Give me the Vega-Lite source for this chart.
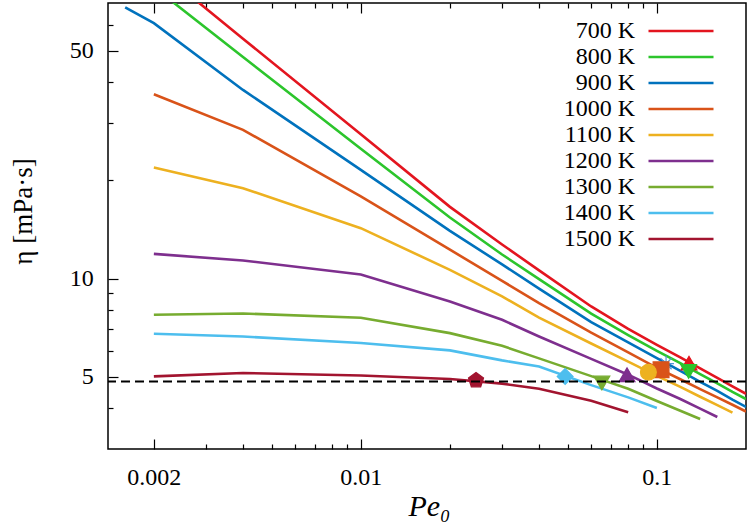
{
  "$schema": "https://vega.github.io/schema/vega-lite/v6.json",
  "width": 638,
  "height": 446,
  "autosize": {"type": "none"},
  "padding": {"left": 108, "top": 3, "right": 2, "bottom": 76},
  "background": "white",
  "config": {
    "view": {"stroke": "black", "strokeWidth": 1.5},
    "axis": {
      "grid": false,
      "domain": false,
      "tickColor": "black",
      "tickWidth": 1.2,
      "labelFont": "Liberation Serif",
      "labelFontSize": 24,
      "labelColor": "black",
      "titleFont": "Liberation Serif",
      "titleColor": "black",
      "titleFontWeight": "normal"
    }
  },
  "datasets": {
    "curves": [
      {"T": "700 K", "Pe": 0.002, "eta": 90.9},
      {"T": "700 K", "Pe": 0.004, "eta": 54.4},
      {"T": "700 K", "Pe": 0.01, "eta": 27.7},
      {"T": "700 K", "Pe": 0.02, "eta": 16.59},
      {"T": "700 K", "Pe": 0.03, "eta": 12.72},
      {"T": "700 K", "Pe": 0.04, "eta": 10.59},
      {"T": "700 K", "Pe": 0.06, "eta": 8.21},
      {"T": "700 K", "Pe": 0.08, "eta": 7.01},
      {"T": "700 K", "Pe": 0.1, "eta": 6.26},
      {"T": "700 K", "Pe": 0.12, "eta": 5.73},
      {"T": "700 K", "Pe": 0.14, "eta": 5.30},
      {"T": "700 K", "Pe": 0.16, "eta": 4.96},
      {"T": "700 K", "Pe": 0.18, "eta": 4.67},
      {"T": "700 K", "Pe": 0.2, "eta": 4.43},
      {"T": "800 K", "Pe": 0.002, "eta": 78.3},
      {"T": "800 K", "Pe": 0.004, "eta": 47.8},
      {"T": "800 K", "Pe": 0.01, "eta": 25.0},
      {"T": "800 K", "Pe": 0.02, "eta": 15.39},
      {"T": "800 K", "Pe": 0.03, "eta": 11.85},
      {"T": "800 K", "Pe": 0.04, "eta": 9.96},
      {"T": "800 K", "Pe": 0.06, "eta": 7.80},
      {"T": "800 K", "Pe": 0.08, "eta": 6.71},
      {"T": "800 K", "Pe": 0.1, "eta": 6.00},
      {"T": "800 K", "Pe": 0.12, "eta": 5.50},
      {"T": "800 K", "Pe": 0.14, "eta": 5.09},
      {"T": "800 K", "Pe": 0.16, "eta": 4.77},
      {"T": "800 K", "Pe": 0.18, "eta": 4.49},
      {"T": "800 K", "Pe": 0.2, "eta": 4.27},
      {"T": "900 K", "Pe": 0.0016, "eta": 67.9},
      {"T": "900 K", "Pe": 0.002, "eta": 60.7},
      {"T": "900 K", "Pe": 0.004, "eta": 37.88},
      {"T": "900 K", "Pe": 0.01, "eta": 21.55},
      {"T": "900 K", "Pe": 0.02, "eta": 14.0},
      {"T": "900 K", "Pe": 0.03, "eta": 11.05},
      {"T": "900 K", "Pe": 0.04, "eta": 9.31},
      {"T": "900 K", "Pe": 0.06, "eta": 7.35},
      {"T": "900 K", "Pe": 0.08, "eta": 6.37},
      {"T": "900 K", "Pe": 0.1, "eta": 5.70},
      {"T": "900 K", "Pe": 0.12, "eta": 5.21},
      {"T": "900 K", "Pe": 0.14, "eta": 4.82},
      {"T": "900 K", "Pe": 0.16, "eta": 4.52},
      {"T": "900 K", "Pe": 0.18, "eta": 4.25},
      {"T": "900 K", "Pe": 0.2, "eta": 4.04},
      {"T": "1000 K", "Pe": 0.002, "eta": 36.75},
      {"T": "1000 K", "Pe": 0.004, "eta": 28.57},
      {"T": "1000 K", "Pe": 0.01, "eta": 17.86},
      {"T": "1000 K", "Pe": 0.02, "eta": 12.26},
      {"T": "1000 K", "Pe": 0.03, "eta": 9.84},
      {"T": "1000 K", "Pe": 0.04, "eta": 8.40},
      {"T": "1000 K", "Pe": 0.06, "eta": 6.82},
      {"T": "1000 K", "Pe": 0.08, "eta": 5.94},
      {"T": "1000 K", "Pe": 0.1, "eta": 5.32},
      {"T": "1000 K", "Pe": 0.12, "eta": 4.91},
      {"T": "1000 K", "Pe": 0.14, "eta": 4.58},
      {"T": "1000 K", "Pe": 0.16, "eta": 4.32},
      {"T": "1000 K", "Pe": 0.18, "eta": 4.10},
      {"T": "1000 K", "Pe": 0.2, "eta": 3.91},
      {"T": "1100 K", "Pe": 0.002, "eta": 21.9},
      {"T": "1100 K", "Pe": 0.004, "eta": 18.93},
      {"T": "1100 K", "Pe": 0.01, "eta": 14.27},
      {"T": "1100 K", "Pe": 0.02, "eta": 10.63},
      {"T": "1100 K", "Pe": 0.03, "eta": 8.81},
      {"T": "1100 K", "Pe": 0.04, "eta": 7.59},
      {"T": "1100 K", "Pe": 0.06, "eta": 6.32},
      {"T": "1100 K", "Pe": 0.08, "eta": 5.56},
      {"T": "1100 K", "Pe": 0.1, "eta": 5.03},
      {"T": "1100 K", "Pe": 0.12, "eta": 4.65},
      {"T": "1100 K", "Pe": 0.14, "eta": 4.34},
      {"T": "1100 K", "Pe": 0.16, "eta": 4.09},
      {"T": "1100 K", "Pe": 0.18, "eta": 3.88},
      {"T": "1200 K", "Pe": 0.002, "eta": 11.9},
      {"T": "1200 K", "Pe": 0.004, "eta": 11.36},
      {"T": "1200 K", "Pe": 0.01, "eta": 10.29},
      {"T": "1200 K", "Pe": 0.02, "eta": 8.50},
      {"T": "1200 K", "Pe": 0.03, "eta": 7.47},
      {"T": "1200 K", "Pe": 0.04, "eta": 6.64},
      {"T": "1200 K", "Pe": 0.06, "eta": 5.67},
      {"T": "1200 K", "Pe": 0.08, "eta": 5.07},
      {"T": "1200 K", "Pe": 0.1, "eta": 4.60},
      {"T": "1200 K", "Pe": 0.12, "eta": 4.27},
      {"T": "1200 K", "Pe": 0.14, "eta": 3.99},
      {"T": "1200 K", "Pe": 0.16, "eta": 3.76},
      {"T": "1300 K", "Pe": 0.002, "eta": 7.74},
      {"T": "1300 K", "Pe": 0.004, "eta": 7.81},
      {"T": "1300 K", "Pe": 0.01, "eta": 7.58},
      {"T": "1300 K", "Pe": 0.02, "eta": 6.80},
      {"T": "1300 K", "Pe": 0.03, "eta": 6.22},
      {"T": "1300 K", "Pe": 0.04, "eta": 5.69},
      {"T": "1300 K", "Pe": 0.06, "eta": 5.02},
      {"T": "1300 K", "Pe": 0.08, "eta": 4.59},
      {"T": "1300 K", "Pe": 0.1, "eta": 4.21},
      {"T": "1300 K", "Pe": 0.12, "eta": 3.93},
      {"T": "1300 K", "Pe": 0.14, "eta": 3.71},
      {"T": "1400 K", "Pe": 0.002, "eta": 6.77},
      {"T": "1400 K", "Pe": 0.004, "eta": 6.64},
      {"T": "1400 K", "Pe": 0.01, "eta": 6.34},
      {"T": "1400 K", "Pe": 0.02, "eta": 6.02},
      {"T": "1400 K", "Pe": 0.03, "eta": 5.61},
      {"T": "1400 K", "Pe": 0.04, "eta": 5.37},
      {"T": "1400 K", "Pe": 0.06, "eta": 4.71},
      {"T": "1400 K", "Pe": 0.08, "eta": 4.32},
      {"T": "1400 K", "Pe": 0.1, "eta": 4.01},
      {"T": "1500 K", "Pe": 0.002, "eta": 5.01},
      {"T": "1500 K", "Pe": 0.004, "eta": 5.13},
      {"T": "1500 K", "Pe": 0.01, "eta": 5.04},
      {"T": "1500 K", "Pe": 0.02, "eta": 4.92},
      {"T": "1500 K", "Pe": 0.03, "eta": 4.76},
      {"T": "1500 K", "Pe": 0.04, "eta": 4.59},
      {"T": "1500 K", "Pe": 0.06, "eta": 4.22},
      {"T": "1500 K", "Pe": 0.08, "eta": 3.89}
    ],
    "markers": [
      {"temp": "700", "Pe": 0.1284, "eta": 5.50},
      {"temp": "800", "Pe": 0.128, "eta": 5.19},
      {"temp": "900", "Pe": 0.1074, "eta": 5.48},
      {"temp": "1000", "Pe": 0.1033, "eta": 5.25},
      {"temp": "1100", "Pe": 0.0936, "eta": 5.16},
      {"temp": "1200", "Pe": 0.0793, "eta": 5.07},
      {"temp": "1300", "Pe": 0.0652, "eta": 4.78},
      {"temp": "1400", "Pe": 0.049, "eta": 5.01},
      {"temp": "1500", "Pe": 0.0245, "eta": 4.87}
    ]
  },
  "layer": [
    {
      "data": {"name": "curves"},
      "mark": {"type": "line", "strokeWidth": 2.6, "clip": true},
      "encoding": {
        "x": {
          "field": "Pe", "type": "quantitative",
          "scale": {"type": "log", "domain": [0.0014, 0.2]},
          "axis": {
            "orient": "bottom", "values": [0.002, 0.01, 0.1], "format": "~g",
            "tickSize": -10, "labelPadding": 26.2,
            "title": "Pe₀", "titleFontSize": 30, "titleFontStyle": "italic",
            "titleX": 321, "titleY": 66, "titleBaseline": "alphabetic", "titleAlign": "center"
          }
        },
        "y": {
          "field": "eta", "type": "quantitative",
          "scale": {"type": "log", "domain": [3, 70]},
          "axis": {
            "orient": "left", "values": [5, 10, 50], "format": "~g",
            "tickSize": -10, "labelPadding": 24.7,
            "title": "η [mPa·s]", "titleFontSize": 27, "titleAngle": -90,
            "titleX": -85, "titleY": 208, "titleBaseline": "middle", "titleAlign": "center"
          }
        },
        "color": {
          "field": "T", "type": "nominal",
          "scale": {
            "domain": ["700 K", "800 K", "900 K", "1000 K", "1100 K", "1200 K", "1300 K", "1400 K", "1500 K"],
            "range": ["#e3151f", "#2cc52c", "#0072bd", "#d95319", "#edb120", "#7e2f8e", "#77ac30", "#4dbeee", "#a2142f"]
          },
          "legend": {
            "orient": "none", "legendX": 561, "legendY": 16, "title": null,
            "symbolType": "M-5,0L5,0", "symbolSize": 169, "symbolStrokeWidth": 2.6,
            "labelAlign": "right", "labelOffset": -57.8, "labelBaseline": "middle",
            "labelFont": "Liberation Serif", "labelFontSize": 24, "labelColor": "black",
            "labelLimit": 0, "rowPadding": 2, "padding": 0
          }
        }
      }
    },
    {
      "data": {"name": "markers"},
      "mark": {"type": "point", "filled": true, "opacity": 1, "size": 250, "strokeWidth": 1.2},
      "encoding": {
        "x": {
          "field": "Pe", "type": "quantitative",
          "scale": {"type": "log", "domain": [0.0014, 0.2]},
          "axis": {
            "orient": "bottom", "labels": false, "title": null, "tickSize": -5,
            "values": [0.003, 0.004, 0.005, 0.006, 0.007, 0.008, 0.009, 0.02, 0.03, 0.04, 0.05, 0.06, 0.07, 0.08, 0.09]
          }
        },
        "y": {
          "field": "eta", "type": "quantitative",
          "scale": {"type": "log", "domain": [3, 70]},
          "axis": {
            "orient": "left", "labels": false, "title": null, "tickSize": -5,
            "values": [4, 6, 7, 8, 9, 20, 30, 40, 60]
          }
        },
        "fill": {
          "field": "temp", "type": "nominal", "legend": null,
          "scale": {
            "domain": ["700", "800", "900", "1000", "1100", "1200", "1300", "1400", "1500"],
            "range": ["#e3151f", "#2cc52c", "#0072bd", "#d95319", "#edb120", "#7e2f8e", "#77ac30", "#4dbeee", "#a2142f"]
          }
        },
        "stroke": {
          "field": "temp", "type": "nominal", "legend": null,
          "scale": {
            "domain": ["700", "800", "900", "1000", "1100", "1200", "1300", "1400", "1500"],
            "range": ["#e3151f", "#2cc52c", "#4f95d6", "#d95319", "#edb120", "#7e2f8e", "#77ac30", "#4dbeee", "#a2142f"]
          }
        },
        "shape": {
          "field": "temp", "type": "nominal", "legend": null,
          "scale": {
            "domain": ["700", "800", "900", "1000", "1100", "1200", "1300", "1400", "1500"],
            "range": ["triangle-up", "triangle-down", "M-1,0L1,0M0,-1L0,1M-0.7,-0.7L0.7,0.7M-0.7,0.7L0.7,-0.7", "square", "circle", "triangle-up", "triangle-down", "diamond", "M0,-1L0.951,-0.309L0.588,0.809L-0.588,0.809L-0.951,-0.309Z"]
          }
        }
      }
    },
    {
      "data": {"name": "markers"},
      "mark": {"type": "point", "opacity": 0},
      "encoding": {
        "x": {
          "field": "Pe", "type": "quantitative",
          "scale": {"type": "log", "domain": [0.0014, 0.2]},
          "axis": {"orient": "top", "labels": false, "title": null, "tickSize": -10, "values": [0.002, 0.01, 0.1]}
        },
        "y": {"field": "eta", "type": "quantitative", "scale": {"type": "log", "domain": [3, 70]}, "axis": null}
      }
    },
    {
      "data": {"name": "markers"},
      "mark": {"type": "point", "opacity": 0},
      "encoding": {
        "x": {
          "field": "Pe", "type": "quantitative",
          "scale": {"type": "log", "domain": [0.0014, 0.2]},
          "axis": {
            "orient": "top", "labels": false, "title": null, "tickSize": -5,
            "values": [0.003, 0.004, 0.005, 0.006, 0.007, 0.008, 0.009, 0.02, 0.03, 0.04, 0.05, 0.06, 0.07, 0.08, 0.09]
          }
        },
        "y": {"field": "eta", "type": "quantitative", "scale": {"type": "log", "domain": [3, 70]}, "axis": null}
      }
    },
    {
      "data": {"values": [{"level": 4.83}]},
      "mark": {"type": "rule", "color": "black", "strokeWidth": 2, "strokeDash": [9, 5]},
      "encoding": {
        "y": {"field": "level", "type": "quantitative", "scale": {"type": "log", "domain": [3, 70]}, "axis": null}
      }
    }
  ],
  "resolve": {"axis": {"x": "independent", "y": "independent"}}
}
